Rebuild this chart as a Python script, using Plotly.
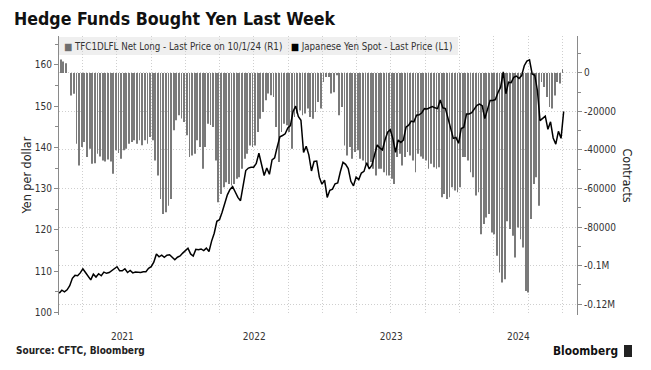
import pandas as pd
import plotly.graph_objects as go

# ---------------- data ----------------
title = "Hedge Funds Bought Yen Last Week"
source = "Source: CFTC, Bloomberg"
bars_name = "TFC1DLFL Net Long - Last Price on 10/1/24 (R1)"
line_name = "Japanese Yen Spot - Last Price (L1)"

# weekly CFTC net long (thousands of contracts), Tuesdays from 2021-02-02
net_long_start = "2021-02-02"
net_long_k = [
    7, 6, 5, 0, -11.7, -10.8, -36.8, -48, -38.5, -35.9,
    -43.7, -39.4, -47.2, -46.9, -41.9, -43.4, -45.5, -46, -45, -46,
    -52.4, -40.2, -41.6, -44.6, -40.2, -39.4, -36.8, -35.9, -35, -36.8,
    -35, -37.6, -35, -36.8, -33.3, -35, -45.5, -53.3, -65.4, -73.2,
    -72.4, -68.9, -65.4, -29.8, -24.6, -22, -23.6, -25.5, -32.4, -43.7,
    -42.9, -41.9, -35, -38.5, -49.8, -38.5, -26.4, -27, -28.1, -45.5,
    -67.2, -62.8, -59.4, -56.8, -57.6, -58.5, -57.6, -55, -54.2, -49.8,
    -44.6, -42, -37.7, -38.5, -37.7, -30.7, -23.8, -20.3, -14.2, -10.7,
    -11.6, -12.5, -28.1, -46.3, -30.7, -26.4, -27.2, -30.7, -39.4, -22.9,
    -21.1, -19.5, -22, -21.1, -18.5, -22.9, -23.8, -20.3, -15.1, -18.5,
    -4.7, -2.1, -2.1, -10.7, -10, -1.2, -22, -17.7, -37.7, -42.9,
    -38.5, -44.6, -41.1, -40.2, -44.6, -45.5, -47.2, -48, -46.3, -49.8,
    -53.3, -49.8, -49.8, -51.6, -53.3, -53.3, -55, -57.6, -43.7, -42,
    -48.1, -43.7, -41.1, -42.9, -45.5, -51.6, -42, -43.4, -44.6, -45.5,
    -49.8, -47.2, -49, -49.8, -49, -64.6, -62.8, -65.4, -64.6, -59.4,
    -61.1, -62, -59.4, -43.7, -43.7, -45.5, -51.6, -54.2, -63.7, -62,
    -83.7, -78.5, -75, -73.2, -82.8, -83.7, -94.9, -103.6, -108.8, -107.1,
    -77, -81, -84.5, -95.8, -80.2, -86.3, -90.6, -113.2, -114, -75.8,
    -57.6, -54.2, -68.9, -4.7, -7.3, -12.5, -17.7, -18.5, -11.7, -4.7,
    -5.5, 1.9,
]

# USDJPY weekly (Fridays from 2021-01-29)
yen_start = "2021-01-29"
yen_2021 = [104.7, 105.4, 105.0, 105.5, 106.5, 108.3, 109.0, 108.9, 109.6, 110.6,
            109.7, 108.8, 107.9, 109.3, 108.6, 109.4, 108.9, 109.8, 109.5, 109.7,
            110.2, 110.8, 111.1, 110.1, 110.1, 110.6, 109.7, 110.2, 109.6, 109.8,
            109.8, 109.7, 109.9, 109.9, 110.7, 111.1, 112.2, 114.2, 113.5, 113.9,
            113.4, 113.9, 114.0, 113.4, 112.8, 113.4, 113.7, 114.4, 115.1]
yen_2022 = [115.6, 114.2, 113.7, 115.3, 115.2, 115.4, 115.0, 115.6, 114.8, 117.3,
            119.2, 122.1, 122.5, 124.3, 126.4, 128.5, 129.8, 130.5, 129.2, 127.9,
            127.1, 130.8, 134.4, 135.0, 135.2, 135.2, 136.1, 138.6, 136.1, 133.2,
            135.0, 133.5, 137.0, 137.5, 140.2, 142.6, 142.9, 143.3, 144.7, 145.3,
            148.7, 150.0, 147.5, 146.6, 138.8, 140.3, 138.2, 134.3, 136.6, 136.7,
            132.8, 131.1]
yen_2023 = [132.1, 127.9, 129.6, 129.9, 131.2, 131.4, 134.1, 136.4, 135.9, 134.9,
            131.8, 130.7, 132.8, 132.2, 133.8, 134.2, 136.3, 134.8, 135.7, 138.0,
            140.6, 139.9, 139.4, 141.8, 143.7, 144.3, 142.1, 138.8, 141.8, 141.2,
            141.8, 144.9, 145.4, 146.4, 146.2, 147.8, 147.9, 148.4, 149.4, 149.3,
            149.6, 149.9, 149.6, 149.4, 151.5, 149.6, 149.4, 146.8, 144.9, 142.2,
            142.4, 141.0]
yen_2024 = [144.6, 144.9, 148.1, 148.1, 148.4, 149.3, 150.2, 150.5, 150.1, 147.0,
            149.0, 151.4, 151.4, 151.6, 153.3, 154.6, 158.3, 153.0, 155.8, 155.7,
            157.0, 157.3, 156.7, 157.4, 159.8, 160.9, 161.2, 157.8, 157.5, 153.8,
            146.5, 147.1, 147.6, 144.4, 146.2, 142.3, 140.8, 143.9, 142.2, 148.7]

year_labels = ["2021", "2022", "2023", "2024"]
left_ticks = [100, 110, 120, 130, 140, 150, 160]
right_ticks = [0, -20000, -40000, -60000, -80000, -100000, -120000]
right_ticktext = ["0", "-20000", "-40000", "-60000", "-80000", "-0.1M", "-0.12M"]
x_range = ["2021-01-28 10:00", "2024-11-08 12:00"]

# ---------------- build ----------------
net_long = [v * 1000 for v in net_long_k]          # thousands -> contracts
bar_dates = pd.date_range(net_long_start, periods=len(net_long), freq="7D")
yen = yen_2021 + yen_2022 + yen_2023 + yen_2024
yen_dates = pd.date_range(yen_start, periods=len(yen), freq="7D")

# year labels centred on the visible part of each year
r0, r1 = pd.Timestamp(x_range[0]), pd.Timestamp(x_range[1])
centers = []
for y in year_labels:
    a = max(pd.Timestamp(f"{y}-01-01"), r0)
    b = min(pd.Timestamp(f"{int(y)+1}-01-01"), r1)
    centers.append(a + (b - a) / 2)

FONT = "DejaVu Sans Condensed, DejaVu Sans, sans-serif"
GRID = "#cfcfcf"
GDASH = "1px,2px"
AXIS = "#8a8a8a"
TXT = "#333333"

fig = go.Figure()
fig.add_trace(go.Bar(
    x=bar_dates, y=net_long, name=bars_name, yaxis="y",
    marker=dict(color="#7a7a7a", line=dict(width=0)),
    width=2.2 * 86400000,
))
fig.add_trace(go.Scatter(
    x=yen_dates, y=yen, name=line_name, yaxis="y2", mode="lines",
    line=dict(color="#000000", width=1.5),
))

W, H = 651, 370
L, R, T, B = 59, 74, 36, 55
pw, ph = W - L - R, H - T - B


def px(x):
    return (x - L) / pw


def py(y):
    return (H - B - y) / ph


fig.update_layout(
    width=W, height=H,
    margin=dict(l=L, r=R, t=T, b=B),
    paper_bgcolor="white", plot_bgcolor="white",
    showlegend=False,
    font=dict(family=FONT, size=10, color=TXT),
    title=dict(text=f"<b>{title}</b>", x=14 / W, xanchor="left",
               y=1 - 19 / H, yanchor="middle",
               font=dict(family=FONT, size=17.6, color="#111111")),
    xaxis=dict(
        type="date", range=x_range,
        tickmode="array", tickvals=centers, ticktext=year_labels,
        ticks="", showgrid=False, showline=False, zeroline=False,
        tickfont=dict(size=10, color=TXT), ticklabelstandoff=14,
        minor=dict(dtick="M3", tick0="2021-01-01", showgrid=True,
                   gridcolor=GRID, griddash=GDASH, gridwidth=1, ticks=""),
    ),
    yaxis=dict(
        side="right", range=[-125700, 19200],
        tickmode="array", tickvals=right_ticks, ticktext=right_ticktext,
        ticks="outside", ticklen=4, tickcolor=AXIS,
        showline=True, linecolor=AXIS, linewidth=1,
        showgrid=True, gridcolor=GRID, griddash=GDASH, gridwidth=1,
        zeroline=False, tickfont=dict(size=10, color=TXT),
        minor=dict(dtick=10000, tick0=0, ticks="outside", ticklen=3,
                   tickcolor=AXIS, showgrid=False),
    ),
    yaxis2=dict(
        overlaying="y", side="left", anchor="x", range=[99.4, 167.0],
        tickmode="array", tickvals=left_ticks,
        ticks="outside", ticklen=4, tickcolor=AXIS,
        showline=True, linecolor=AXIS, linewidth=1,
        showgrid=False, zeroline=False, tickfont=dict(size=10, color=TXT),
        minor=dict(dtick=5, tick0=0, ticks="outside", ticklen=3,
                   tickcolor=AXIS, showgrid=False),
    ),
)

# legend band
fig.add_shape(type="rect", xref="paper", yref="paper",
              x0=0, x1=px(458), y0=py(55), y1=py(37),
              fillcolor="#efefef", line=dict(width=0), layer="below")
legend_text = (f'<span style="color:#6e6e6e">■</span> {bars_name}   '
               f'<span style="color:#000000">■</span> {line_name}')
fig.add_annotation(xref="paper", yref="paper", x=px(62), y=py(46),
                   xanchor="left", yanchor="middle", showarrow=False,
                   text=legend_text, font=dict(family=FONT, size=9.7, color=TXT))

# axis titles
fig.add_annotation(xref="paper", yref="paper", x=px(26), y=0.5,
                   xanchor="center", yanchor="middle", showarrow=False,
                   textangle=-90, text="Yen per dollar",
                   font=dict(family=FONT, size=12.5, color="#222222"))
fig.add_annotation(xref="paper", yref="paper", x=px(627), y=0.5,
                   xanchor="center", yanchor="middle", showarrow=False,
                   textangle=90, text="Contracts",
                   font=dict(family=FONT, size=12.5, color="#222222"))

# footer
fig.add_annotation(xref="paper", yref="paper", x=px(14), y=py(351),
                   xanchor="left", yanchor="middle", showarrow=False,
                   text=f"<b>{source}</b>",
                   font=dict(family=FONT, size=10, color="#222222"))
fig.add_annotation(xref="paper", yref="paper", x=px(620), y=py(351),
                   xanchor="right", yanchor="middle", showarrow=False,
                   text="<b>Bloomberg</b>",
                   font=dict(family=FONT, size=11.8, color="#111111"))
fig.add_shape(type="rect", xref="paper", yref="paper",
              x0=px(624), x1=px(632), y0=py(357), y1=py(345),
              fillcolor="#222222", line=dict(width=0))

fig.write_html("out.html", config={"displayModeBar": False},
               post_script="document.body.style.margin='0px';")
